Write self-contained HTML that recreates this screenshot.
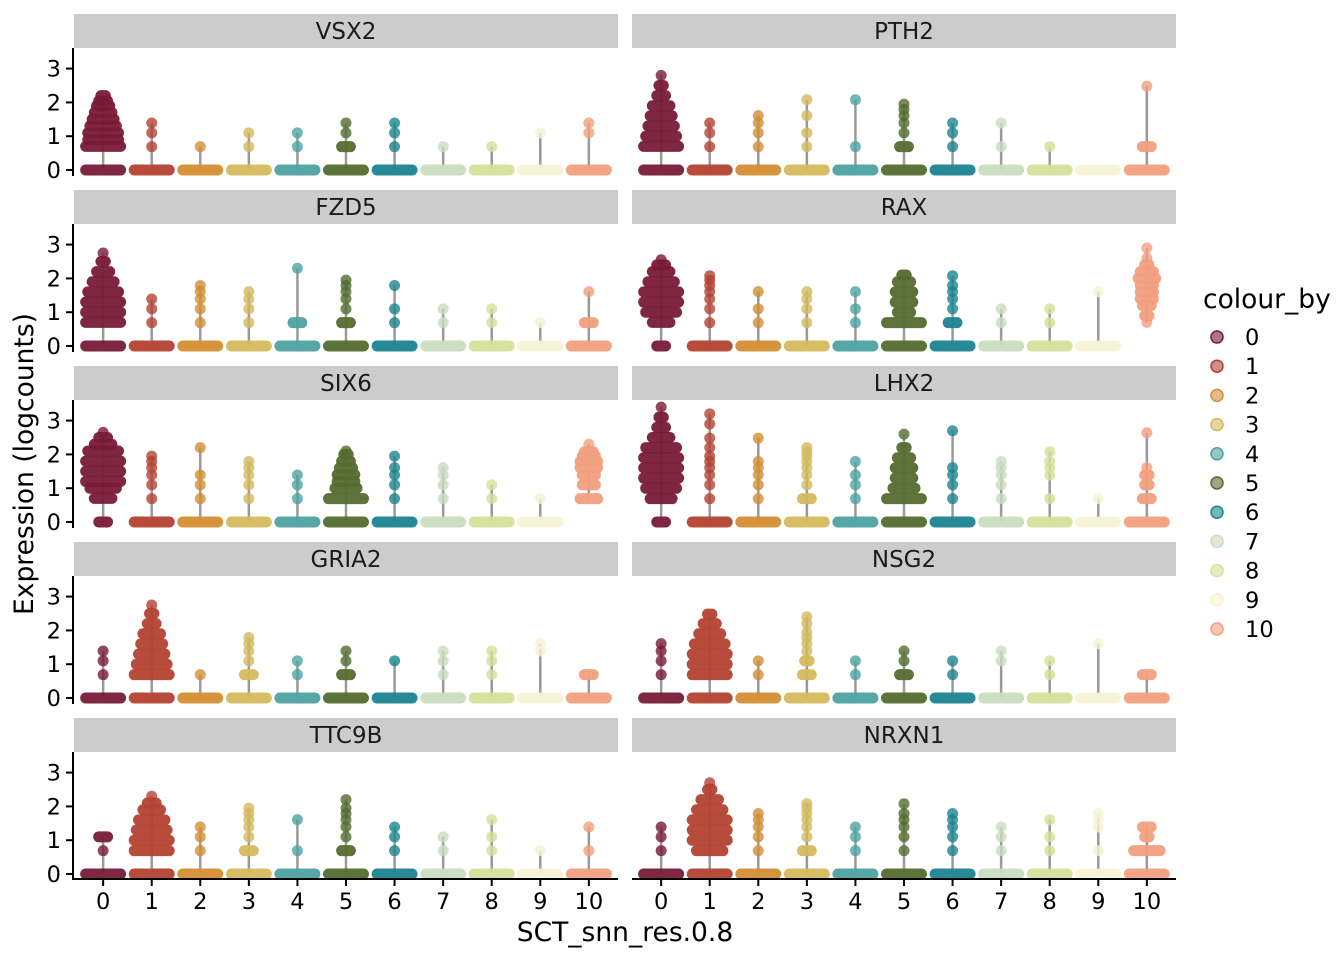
<!DOCTYPE html>
<html><head><meta charset="utf-8"><style>
html,body{margin:0;padding:0;background:#fff;}
svg{display:block;font-family:"DejaVu Sans","Liberation Sans",sans-serif;}
</style></head><body>
<svg id="chart" width="1344" height="960" viewBox="0 0 1344 960"></svg>
<script>
const genes = ["VSX2","PTH2","FZD5","RAX","SIX6","LHX2","GRIA2","NSG2","TTC9B","NRXN1"];
const clusters = ["0","1","2","3","4","5","6","7","8","9","10"];
const colors = ["#781a36","#b34233","#d28f33","#d4b95e","#4ea2a2","#546b2f","#1b8490","#c9dcc0","#d4e09b","#f6f2d4","#f19f7e"];
const yTicks = [0,1,2,3];
// per gene, per cluster: numbers = single dot values, [value,width] = row of dots; zero row (width 9) added unless [0,w] given
const dVSX2 = [[[0.7,9],[0.9,8],[1.1,8],[1.3,7],[1.5,6],[1.7,5],[1.9,4],[2.05,3],[2.2,2]],[0.69,1.1,1.39],[0.69],[0.69,1.1],[0.69,1.1],[[0.69,3],1.1,1.39],[0.69,1.1,1.39],[0.69],[0.69],[1.1],[1.1,1.39]];
const dPTH2 = [[[0.7,9],[1.0,8],[1.3,7],[1.6,6],[1.9,5],[2.2,3],[2.5,2],[2.8,1]],[0.69,1.1,1.39],[0.69,1.1,1.39,1.61],[0.69,1.1,1.61,2.08],[0.69,2.08],[[0.69,3],1.1,1.39,1.61,1.79,1.95],[0.69,1.1,1.39],[0.69,1.39],[0.69],[],[[0.69,3],2.48]];
const dFZD5 = [[[0.7,9],[1.0,9],[1.3,9],[1.6,8],[1.9,6],[2.2,4],[2.5,2],[2.75,1]],[0.69,1.1,1.39],[0.69,1.1,1.39,1.61,1.79],[0.69,1.1,1.39,1.61],[[0.69,3],2.3],[[0.69,3],1.1,1.39,1.61,1.79,1.95],[0.69,1.1,1.79],[0.69,1.1],[0.69,1.1],[0.69],[[0.69,3],1.61]];
const dRAX = [[[0,3],[0.7,5],[1.0,8],[1.3,9],[1.6,9],[1.9,7],[2.2,5],[2.4,3],[2.55,1]],[0.69,1.1,1.39,1.61,1.79,1.95,2.08],[0.69,1.1,1.61],[0.69,1.1,1.39,1.61],[0.69,1.1,1.61],[[0.69,9],[1.0,4],[1.3,5],[1.6,5],[1.9,4],[2.1,2]],[[0.69,3],1.1,1.39,1.61,1.79,2.08],[0.69,1.1],[0.69,1.1],[1.61],[[0,0],[0.7,1],[0.9,2],[1.2,3],[1.4,4],[1.6,4],[1.8,4],[2.0,5],[2.2,4],[2.4,2],[2.6,1],[2.9,1]]];
const dSIX6 = [[[0,3],[0.7,5],[1.0,7],[1.2,9],[1.5,9],[1.8,9],[2.1,8],[2.3,5],[2.5,3],[2.65,1]],[0.69,1.1,1.39,1.61,1.79,1.95],[0.69,1.1,1.39,2.2],[0.69,1.1,1.39,1.61,1.79],[0.69,1.1,1.39],[[0.69,9],[1.0,6],[1.2,5],[1.4,5],[1.6,4],[1.8,3],[2.0,2],[2.1,1]],[0.69,1.1,1.39,1.61,1.95],[0.69,1.1,1.39,1.61],[0.69,1.1],[0.69],[[0,0],[0.69,5],[1.1,4],[1.39,4],[1.61,5],[1.79,5],[1.95,4],[2.08,3],[2.3,1]]];
const dLHX2 = [[[0,3],[0.69,6],[1.0,8],[1.3,9],[1.6,9],[1.9,9],[2.2,8],[2.5,5],[2.8,3],[3.1,2],[3.4,1]],[0.69,1.1,1.39,1.61,1.79,1.95,2.2,2.48,2.9,3.2],[0.69,1.1,1.39,1.61,1.79,2.48],[[0.69,3],1.1,1.39,1.61,1.79,1.95,2.08,2.2],[0.69,1.1,1.39,1.79],[[0.69,9],[1.0,6],[1.3,5],[1.6,5],[1.9,4],[2.2,2],[2.6,1]],[0.69,1.1,1.39,1.61,2.7],[0.69,1.1,1.39,1.61,1.79],[0.69,1.39,1.61,1.79,2.08],[0.69],[[0.69,3],[1.1,2],[1.39,2],1.61,2.64]];
const dGRIA2 = [[0.69,1.1,1.39],[[0.69,9],[1.0,8],[1.3,7],[1.6,6],[1.9,5],[2.2,3],[2.5,2],[2.75,1]],[0.69],[[0.69,3],1.1,1.39,1.61,1.79],[0.69,1.1],[[0.69,3],1.1,1.39],[1.1],[0.69,1.1,1.39],[0.69,1.1,1.39],[1.39,1.61],[[0.69,3]]];
const dNSG2 = [[0.69,1.1,1.39,1.61],[[0.69,9],[1.0,9],[1.3,9],[1.6,8],[1.9,6],[2.2,4],[2.48,2]],[0.69,1.1],[[0.69,3],[1.1,2],1.39,1.61,1.79,1.95,2.2,2.4],[0.69,1.1],[[0.69,3],1.1,1.39],[0.69,1.1],[1.1,1.39],[0.69,1.1],[1.61],[[0.69,3]]];
const dTTC9B = [[0.69,[1.1,3]],[[0.69,9],[1.0,9],[1.3,8],[1.6,7],[1.9,5],[2.1,3],[2.3,1]],[0.69,1.1,1.39],[[0.69,3],1.1,1.39,1.61,1.79,1.95],[0.69,1.61],[[0.69,3],1.1,1.39,1.61,1.79,1.95,2.2],[0.69,1.1,1.39],[0.69,1.1],[0.69,1.1,1.61],[0.69],[0.69,1.39]];
const dNRXN1 = [[0.69,1.1,1.39],[[0.69,7],[1.0,9],[1.3,9],[1.6,9],[1.9,7],[2.2,5],[2.5,2],[2.7,1]],[0.69,1.1,1.39,1.61,1.79],[[0.69,3],1.1,1.39,1.61,1.79,1.95,2.08],[0.69,1.1,1.39],[0.69,1.1,1.39,1.61,1.79,2.08],[0.69,1.1,1.39,1.61,1.79],[0.69,1.1,1.39],[0.69,1.1,1.61],[0.69,1.39,1.61,1.79],[[0.69,7],[1.1,2],[1.39,3]]];
const geneData = [dVSX2,dPTH2,dFZD5,dRAX,dSIX6,dLHX2,dGRIA2,dNSG2,dTTC9B,dNRXN1];

const NS="http://www.w3.org/2000/svg";
const svg=document.getElementById('chart');
function mk(tag,attrs,parent){const e=document.createElementNS(NS,tag);for(const k in attrs)e.setAttribute(k,attrs[k]);(parent||svg).appendChild(e);return e;}
const colX=[74,632], pw=544, rowTop=14, rowH=176, stripH=34;
const band=pw/11.2;
function xPos(col,i){return colX[col]+(0.6+i)*band;}
function yPos(row,v){return 170+row*rowH-v*33.8;}

genes.forEach((g,gi)=>{
  const col=gi%2,row=Math.floor(gi/2);
  const panel=mk('g',{});
  
  
  const st=mk('rect',{x:colX[col],y:rowTop+row*rowH,width:pw,height:stripH,fill:'#cccccc'},panel);
  
  
  const stt=mk('text',{x:colX[col]+pw/2,y:rowTop+row*rowH+25,'text-anchor':'middle','font-size':23,fill:'#1a1a1a'},panel);
  stt.textContent=g;
  
  
  if(col===0){
    const ax=mk('line',{x1:73,x2:73,y1:48+row*rowH,y2:(row===4?880:176+row*rowH),stroke:'#000','stroke-width':2},panel);
    
    
    yTicks.forEach(t=>{
      const y=yPos(row,t);
      mk('line',{x1:66,x2:73,y1:y,y2:y,stroke:'#000','stroke-width':2},panel);
      const tl=mk('text',{x:61,y:y+8,'text-anchor':'end','font-size':22.5,fill:'#000'},panel);
      tl.textContent=t;
      
      
    });
  }
  geneData[gi].forEach((cl,ci)=>{
    const cx=xPos(col,ci);
    const rows=cl.map(e=>Array.isArray(e)?e:[e,1]);
    if(!(rows.length&&rows[0][0]===0)) rows.unshift([0,9]);
    const vis=rows.filter(r=>r[1]>0);
    const vals=vis.map(r=>r[0]);
    const vmin=Math.min(...vals), vmax=Math.max(...vals);
    if(vmax>vmin){
      const vl=mk('line',{x1:cx,x2:cx,y1:yPos(row,vmin),y2:yPos(row,vmax),stroke:'#999','stroke-width':2.5},panel);
      
      
    }
    vis.forEach(r=>{
      const w=Math.min(46,11+(r[1]-1)*4.4);
      const y=yPos(row,r[0]);
      const d=mk('rect',{x:cx-w/2,y:y-5.5,width:w,height:11,rx:5.5,ry:5.5,fill:colors[ci],'fill-opacity':r[1]>1?0.95:0.8},panel);
      
      
    });
  });
  if(row===4){
    const bx=mk('line',{x1:colX[col],x2:colX[col]+pw,y1:879,y2:879,stroke:'#000','stroke-width':2},panel);
    
    
    clusters.forEach((c,ci)=>{
      const x=xPos(col,ci);
      mk('line',{x1:x,x2:x,y1:879,y2:886,stroke:'#000','stroke-width':2},panel);
      const tl=mk('text',{x:x,y:909,'text-anchor':'middle','font-size':22.5,fill:'#000'},panel);
      tl.textContent=c;
      
      
    });
  }
});
const xt=mk('text',{x:625,y:941,'text-anchor':'middle','font-size':26.5,fill:'#000'});
xt.textContent='SCT_snn_res.0.8';


const yt=mk('text',{x:0,y:0,'text-anchor':'middle','font-size':26.5,fill:'#000',transform:'translate(33,464) rotate(-90)'});
yt.textContent='Expression (logcounts)';


const lg=mk('g',{});


const lt=mk('text',{x:1203,y:308,'font-size':26.5,fill:'#000'},lg);
lt.textContent='colour_by';


clusters.forEach((c,ci)=>{
  const y=337+ci*29.2;
  const ent=mk('g',{},lg);
  
  
  mk('circle',{cx:1217,cy:y,r:6,fill:colors[ci],'fill-opacity':0.6,stroke:colors[ci],'stroke-width':1.5},ent);
  const t=mk('text',{x:1245,y:y+8,'font-size':22.5,fill:'#000'},ent);
  t.textContent=c;
});
</script>
</body></html>
